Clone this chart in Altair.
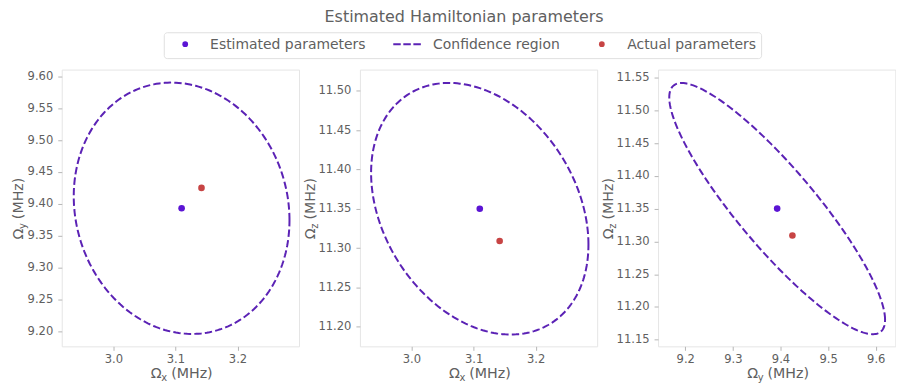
import altair as alt
import numpy as np
import pandas as pd

# ---- data ----
param_subs = ["x", "y", "z"]
estimated = [3.11, 9.393, 11.35]      # Ωx, Ωy, Ωz (MHz)
actual = [3.142, 9.425, 11.309]

panel_pairs = [(0, 1), (0, 2), (1, 2)]
# confidence-region ellipse: half extents and correlation
ellipse_half_x = [0.1737, 0.175, 0.2265]
ellipse_half_y = [0.1975, 0.160, 0.1915]
ellipse_corr = [-0.095, -0.285, -0.885]

x_domains = [[2.917, 3.299], [2.917, 3.299], [9.143, 9.641]]
y_domains = [[9.176, 9.611], [11.175, 11.527], [11.140, 11.562]]
x_ticks = [[3.0, 3.1, 3.2], [3.0, 3.1, 3.2], [9.2, 9.3, 9.4, 9.5, 9.6]]
y_ticks = [
    [9.20, 9.25, 9.30, 9.35, 9.40, 9.45, 9.50, 9.55, 9.60],
    [11.20, 11.25, 11.30, 11.35, 11.40, 11.45, 11.50],
    [11.15, 11.20, 11.25, 11.30, 11.35, 11.40, 11.45, 11.50, 11.55],
]

series_names = ["Estimated parameters", "Confidence region", "Actual parameters"]
series_colors = ["#5b14d4", "#5b22b5", "#c74444"]

TITLE = "Estimated Hamiltonian parameters"
TEXT_COLOR = "#606060"
FONT = "DejaVu Sans"
W, H = 238.3, 278
Y_TITLE_X = [-39.0, -45.0, -45.0]

MAIN_FS, SUB_FS = 14.3, 10.0
EM_SCALE = 0.94
OMEGA_EM = 0.764
SPACE_EM = 0.318
SUB_EM = {"x": 0.592, "y": 0.592, "z": 0.525}
REST_EM = 2.92


def one(txt=""):
    return pd.DataFrame({"t": [txt]})


def axis_title(sub, orient, ybase=0.0):
    w_om = OMEGA_EM * EM_SCALE * MAIN_FS
    w_sub = SUB_EM[sub] * EM_SCALE * SUB_FS
    w_sp = SPACE_EM * EM_SCALE * MAIN_FS
    total = w_om + w_sub + w_sp + REST_EM * EM_SCALE * MAIN_FS
    start = -total / 2
    parts = [("Ω", MAIN_FS, start, 0), (sub, SUB_FS, start + w_om + 0.3, 3),
             ("(MHz)", MAIN_FS, start + w_om + w_sub + w_sp + 0.3, 0)]
    layers = []
    for txt, fs, dx, dy in parts:
        kw = dict(align="left", baseline="alphabetic", font=FONT, fontSize=fs,
                  color=TEXT_COLOR, dx=dx, dy=dy)
        if orient == "x":
            enc = dict(x=alt.value(W / 2), y=alt.value(H + 32))
        else:
            kw["angle"] = 270
            enc = dict(x=alt.value(ybase), y=alt.value(H / 2 + 2))
        layers.append(alt.Chart(one(txt)).mark_text(**kw).encode(text="t:N", **enc))
    return layers


def legend_layers():
    ly, ty = -25.5, -20.3
    box = alt.Chart(one()).mark_rect(
        fill="white", stroke="#e0e0e0", strokeWidth=1, cornerRadius=3
    ).encode(x=alt.value(103), x2=alt.value(703), y=alt.value(-37), y2=alt.value(-11))
    dot1 = alt.Chart(one()).mark_circle(size=33, opacity=1, color=series_colors[0]).encode(
        x=alt.value(124), y=alt.value(ly))
    dash = alt.Chart(one()).mark_rule(
        color=series_colors[1], strokeWidth=2, strokeDash=[7.5, 2.6]
    ).encode(x=alt.value(333), x2=alt.value(360.7), y=alt.value(ly))
    dot3 = alt.Chart(one()).mark_circle(size=33, opacity=1, color=series_colors[2]).encode(
        x=alt.value(542.5), y=alt.value(ly))
    layers = [box, dot1, dash, dot3]
    for name, lx in zip(series_names, [149, 373, 568]):
        layers.append(alt.Chart(one(name)).mark_text(
            align="left", baseline="alphabetic", font=FONT, fontSize=14, color=TEXT_COLOR
        ).encode(text="t:N", x=alt.value(lx), y=alt.value(ty)))
    return layers


def panel(k):
    i, j = panel_pairs[k]
    rho = ellipse_corr[k]
    t = np.linspace(0, 2 * np.pi, 241)
    ex = estimated[i] + ellipse_half_x[k] * np.cos(t)
    ey = estimated[j] + ellipse_half_y[k] * (rho * np.cos(t) + np.sqrt(1 - rho ** 2) * np.sin(t))
    ell = pd.DataFrame({"px": ex, "py": ey, "k": np.arange(len(t))})
    pts = pd.DataFrame({
        "px": [estimated[i], actual[i]],
        "py": [estimated[j], actual[j]],
        "series": ["Estimated parameters", "Actual parameters"],
    })
    xs = alt.Scale(domain=x_domains[k], nice=False, zero=False)
    ys = alt.Scale(domain=y_domains[k], nice=False, zero=False)
    xa = alt.Axis(values=x_ticks[k], format=".1f", title=None, labelPadding=3)
    ya = alt.Axis(values=y_ticks[k], format=".2f", title=None, labelPadding=5)
    line = alt.Chart(ell).mark_line(
        color=series_colors[1], strokeWidth=2, strokeDash=[7.4, 3.2]
    ).encode(
        x=alt.X("px:Q", scale=xs, axis=xa),
        y=alt.Y("py:Q", scale=ys, axis=ya),
        order="k:Q",
    )
    points = alt.Chart(pts).mark_circle(size=44, opacity=1).encode(
        x=alt.X("px:Q", scale=xs, axis=xa),
        y=alt.Y("py:Q", scale=ys, axis=ya),
        color=alt.Color("series:N", scale=alt.Scale(domain=series_names, range=series_colors), legend=None),
    )
    layers = [line, points]
    layers += axis_title(param_subs[i], "x")
    layers += axis_title(param_subs[j], "y", Y_TITLE_X[k])
    if k == 0:
        layers += legend_layers()
    return alt.layer(*layers).properties(width=W, height=H)


chart = alt.HConcatChart(
    hconcat=[panel(0), panel(1), panel(2)], spacing=60.5, bounds="flush",
    title=alt.TitleParams(TITLE, fontSize=16, font=FONT, fontWeight="normal",
                          color=TEXT_COLOR, anchor="start", frame="group", dx=264, offset=6.5),
).properties(
    padding={"left": 3, "top": 0, "right": 0, "bottom": 0}
).configure_view(
    stroke="#e5e5e5", strokeWidth=1
).configure_axis(
    labelFont=FONT, labelFontSize=11.6, labelColor=TEXT_COLOR, tickColor="#b5b5b5",
    tickSize=4, tickWidth=1, domain=False, grid=False,
)

chart.save("out.html", embed_options={"renderer": "svg", "actions": False})
